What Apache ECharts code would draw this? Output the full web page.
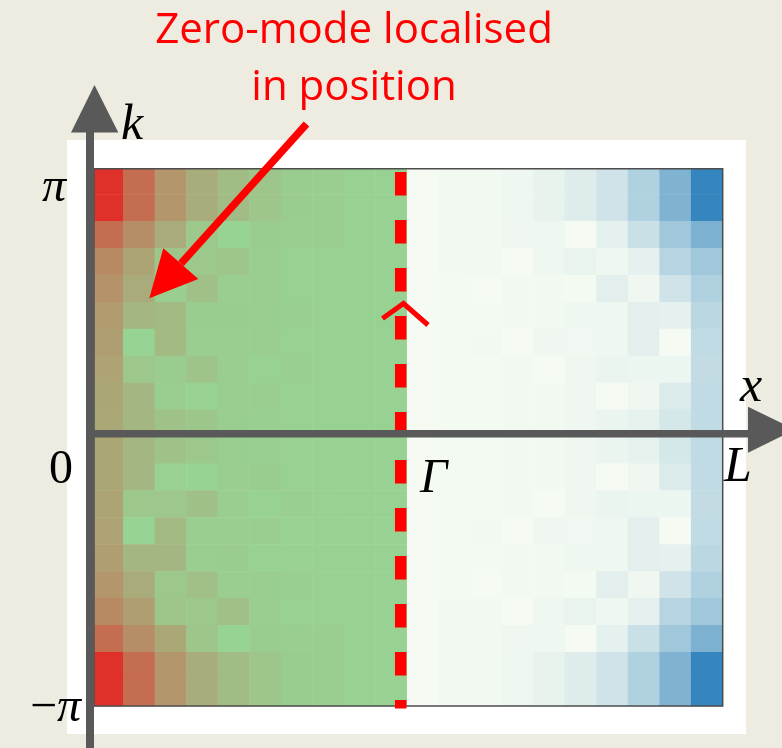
<!DOCTYPE html>
<html>
<head>
<meta charset="utf-8">
<script src="https://cdn.jsdelivr.net/npm/echarts@6/dist/echarts.min.js"></script>
<style>
html,body{margin:0;padding:0;background:#eeebe1;}
#chart{width:782px;height:748px;}
</style>
</head>
<body>
<div id="chart"></div>
<script>
// Position bins (x from 0 to L) and momentum bins (k from pi down to -pi)
const xBins = ['x1','x2','x3','x4','x5','x6','x7','x8','x9','x10','x11','x12','x13','x14','x15','x16','x17','x18','x19','x20'];
const kBins = ['k1','k2','k3','k4','k5','k6','k7','k8','k9','k10','k11','k12','k13','k14','k15','k16','k17','k18','k19','k20'];

// Left half (x from 0 to Gamma): zero-mode weight, rows = k from pi (top) to -pi (bottom)
const zeroModeHalf = [
  [1.00, 0.63, 0.38, 0.24, 0.14, 0.09, 0.05, 0.035, 0.02, 0.01],
  [1.00, 0.63, 0.38, 0.24, 0.14, 0.09, 0.05, 0.035, 0.02, 0.01],
  [0.63, 0.43, 0.25, 0.075, 0.00, 0.05, 0.04, 0.035, 0.02, 0.01],
  [0.45, 0.29, 0.09, 0.075, 0.09, 0.04, 0.02, 0.02, 0.015, 0.01],
  [0.40, 0.25, 0.04, 0.125, 0.035, 0.04, 0.02, 0.02, 0.015, 0.01],
  [0.35, 0.18, 0.16, 0.05, 0.05, 0.04, 0.03, 0.02, 0.015, 0.01],
  [0.33, 0.005, 0.16, 0.04, 0.035, 0.035, 0.02, 0.02, 0.015, 0.01],
  [0.30, 0.075, 0.05, 0.10, 0.035, 0.015, 0.03, 0.02, 0.015, 0.01],
  [0.28, 0.18, 0.035, 0.01, 0.035, 0.035, 0.02, 0.015, 0.015, 0.01],
  [0.27, 0.18, 0.11, 0.085, 0.04, 0.03, 0.02, 0.015, 0.015, 0.01],
  [0.28, 0.18, 0.11, 0.075, 0.04, 0.03, 0.02, 0.015, 0.015, 0.01],
  [0.28, 0.18, 0.02, 0.005, 0.04, 0.05, 0.02, 0.015, 0.015, 0.01],
  [0.29, 0.075, 0.08, 0.115, 0.035, 0.01, 0.03, 0.02, 0.015, 0.01],
  [0.30, 0.005, 0.16, 0.04, 0.035, 0.035, 0.01, 0.02, 0.015, 0.01],
  [0.33, 0.18, 0.18, 0.04, 0.05, 0.015, 0.02, 0.02, 0.015, 0.01],
  [0.38, 0.25, 0.075, 0.125, 0.035, 0.04, 0.03, 0.02, 0.015, 0.01],
  [0.45, 0.33, 0.09, 0.075, 0.125, 0.035, 0.015, 0.02, 0.015, 0.01],
  [0.63, 0.43, 0.27, 0.09, 0.00, 0.05, 0.04, 0.035, 0.02, 0.01],
  [1.00, 0.63, 0.38, 0.24, 0.14, 0.09, 0.05, 0.035, 0.02, 0.01],
  [1.00, 0.63, 0.38, 0.24, 0.14, 0.09, 0.05, 0.035, 0.02, 0.01]
];

// Right half (x from Gamma to L): bulk weight
const bulkHalf = [
  [0, 0.015, 0.015, 0.035, 0.07, 0.12, 0.20, 0.36, 0.61, 1.00],
  [0, 0.015, 0.015, 0.035, 0.07, 0.12, 0.20, 0.36, 0.61, 1.00],
  [0, 0.015, 0.02, 0.03, 0.035, 0.00, 0.085, 0.23, 0.44, 0.63],
  [0, 0.015, 0.015, 0.00, 0.035, 0.06, 0.035, 0.085, 0.33, 0.44],
  [0, 0.01, 0.00, 0.015, 0.02, 0.01, 0.10, 0.03, 0.20, 0.36],
  [0, 0.01, 0.01, 0.015, 0.02, 0.035, 0.035, 0.10, 0.085, 0.30],
  [0, 0.01, 0.015, 0.00, 0.03, 0.025, 0.035, 0.10, 0.00, 0.27],
  [0, 0.01, 0.01, 0.015, 0.00, 0.03, 0.05, 0.045, 0.045, 0.26],
  [0, 0.01, 0.01, 0.015, 0.015, 0.03, 0.00, 0.03, 0.135, 0.27],
  [0, 0.01, 0.01, 0.015, 0.02, 0.03, 0.05, 0.08, 0.17, 0.27],
  [0, 0.01, 0.01, 0.015, 0.02, 0.03, 0.05, 0.08, 0.17, 0.27],
  [0, 0.01, 0.01, 0.015, 0.015, 0.03, 0.00, 0.03, 0.135, 0.27],
  [0, 0.01, 0.01, 0.015, 0.00, 0.03, 0.05, 0.045, 0.045, 0.26],
  [0, 0.01, 0.015, 0.00, 0.03, 0.025, 0.035, 0.10, 0.00, 0.27],
  [0, 0.01, 0.01, 0.015, 0.02, 0.035, 0.035, 0.10, 0.085, 0.30],
  [0, 0.01, 0.00, 0.015, 0.02, 0.01, 0.10, 0.03, 0.20, 0.36],
  [0, 0.015, 0.015, 0.00, 0.035, 0.06, 0.035, 0.085, 0.33, 0.44],
  [0, 0.015, 0.02, 0.03, 0.035, 0.00, 0.085, 0.23, 0.44, 0.63],
  [0, 0.015, 0.015, 0.035, 0.07, 0.12, 0.20, 0.36, 0.61, 1.00],
  [0, 0.015, 0.015, 0.035, 0.07, 0.12, 0.20, 0.36, 0.61, 1.00]
];

const titleLines = ['Zero-mode localised', 'in position'];

const greenData = [];
const blueData = [];
zeroModeHalf.forEach((row, r) => row.forEach((v, c) => greenData.push([c, r, v])));
bulkHalf.forEach((row, r) => row.forEach((v, c) => blueData.push([c + zeroModeHalf[0].length, r, v])));

const RED = '#ff0000';
const AXIS = '#595959';
const SERIF = '"Liberation Serif", "DejaVu Serif", serif';

const chart = echarts.init(document.getElementById('chart'), null, {renderer: 'canvas'});
chart.setOption({
  animation: false,
  backgroundColor: '#eeebe1',
  grid: {left: 91.7, top: 167.5, width: 631, height: 538.5, containLabel: false},
  xAxis: {type: 'category', data: xBins, show: false, boundaryGap: true},
  yAxis: {type: 'category', data: kBins, inverse: true, show: false, boundaryGap: true},
  visualMap: [
    {type: 'continuous', seriesIndex: 0, min: 0, max: 1, show: false,
     inRange: {color: ['#97d494', '#e0302a']}},
    {type: 'continuous', seriesIndex: 1, min: 0, max: 1, show: false,
     inRange: {color: ['#f5fbf2', '#3585be']}}
  ],
  series: [
    {type: 'heatmap', data: greenData, itemStyle: {borderWidth: 0}, emphasis: {disabled: true}, progressive: 0, z: 2},
    {type: 'heatmap', data: blueData, itemStyle: {borderWidth: 0}, emphasis: {disabled: true}, progressive: 0, z: 2}
  ],
  graphic: {
    elements: [
      // white panel behind the plot
      {type: 'rect', z: -10, silent: true, shape: {x: 67, y: 140, width: 679, height: 594}, style: {fill: '#ffffff'}},
      // white strip clipping above the frame
      {type: 'rect', z: 50, silent: true, shape: {x: 92, y: 140, width: 640, height: 28.5}, style: {fill: '#ffffff'}},
      // frame
      {type: 'rect', z: 60, silent: true, shape: {x: 94, y: 168.7, width: 628.7, height: 537.3}, style: {fill: null, stroke: '#4d4d4d', lineWidth: 1.5}},
      // dashed Gamma line
      {type: 'line', z: 70, silent: true, shape: {x1: 400.7, y1: 172, x2: 400.7, y2: 708.5}, style: {stroke: RED, lineWidth: 11.5, lineDash: [23.5, 24.5], lineCap: 'butt'}},
      // chevron
      {type: 'polyline', z: 71, silent: true, shape: {points: [[382.5, 318.5], [403.5, 303.5], [428, 325]]}, style: {stroke: RED, lineWidth: 5, fill: null, lineJoin: 'miter'}},
      // vertical axis (k)
      {type: 'rect', z: 80, silent: true, shape: {x: 86, y: 130, width: 8, height: 630}, style: {fill: AXIS}},
      {type: 'polygon', z: 80, silent: true, shape: {points: [[94.5, 85], [71, 132.5], [118.3, 132.5]]}, style: {fill: AXIS}},
      // horizontal axis (x)
      {type: 'rect', z: 80, silent: true, shape: {x: 86, y: 430, width: 664, height: 7.5}, style: {fill: AXIS}},
      {type: 'polygon', z: 80, silent: true, shape: {points: [[748, 406.7], [748, 452.7], [795, 429.7]]}, style: {fill: AXIS}},
      // red annotation arrow
      {type: 'line', z: 90, silent: true, shape: {x1: 306.5, y1: 124, x2: 181, y2: 263.5}, style: {stroke: RED, lineWidth: 7.5, lineCap: 'butt'}},
      {type: 'polygon', z: 90, silent: true, shape: {points: [[149.3, 298.3], [163.3, 248.3], [198.3, 279]]}, style: {fill: RED}},
      // title
      {type: 'text', z: 95, silent: true, style: {text: titleLines[0], x: 354, y: 31, align: 'center', verticalAlign: 'middle', font: '42px "Open Sans"', fill: RED}},
      {type: 'text', z: 95, silent: true, style: {text: titleLines[1], x: 354, y: 88, align: 'center', verticalAlign: 'middle', font: '42px "Open Sans"', fill: RED}},
      // axis labels
      {type: 'text', z: 95, silent: true, style: {text: 'k', x: 121, y: 126, align: 'left', verticalAlign: 'middle', font: 'italic 50px ' + SERIF, fill: '#000'}},
      {type: 'text', z: 95, silent: true, style: {text: 'x', x: 740, y: 388, align: 'left', verticalAlign: 'middle', font: 'italic 50px ' + SERIF, fill: '#000'}},
      {type: 'text', z: 95, silent: true, style: {text: 'π', x: 54, y: 188, align: 'center', verticalAlign: 'middle', font: 'italic 48px ' + SERIF, fill: '#000'}},
      {type: 'text', z: 95, silent: true, style: {text: '0', x: 61, y: 470, align: 'center', verticalAlign: 'middle', font: '48px ' + SERIF, fill: '#000'}},
      {type: 'text', z: 95, silent: true, style: {text: '{m|−}{p|π}', x: 81, y: 708, align: 'right', verticalAlign: 'middle',
        rich: {m: {font: '48px ' + SERIF, fill: '#000'}, p: {font: 'italic 48px ' + SERIF, fill: '#000'}}}},
      {type: 'text', z: 95, silent: true, style: {text: 'Γ', x: 420, y: 479, align: 'left', verticalAlign: 'middle', font: 'italic 48px ' + SERIF, fill: '#000'}},
      {type: 'text', z: 95, silent: true, style: {text: 'L', x: 724, y: 468, align: 'left', verticalAlign: 'middle', font: 'italic 50px ' + SERIF, fill: '#000'}}
    ]
  }
});
</script>
</body>
</html>
